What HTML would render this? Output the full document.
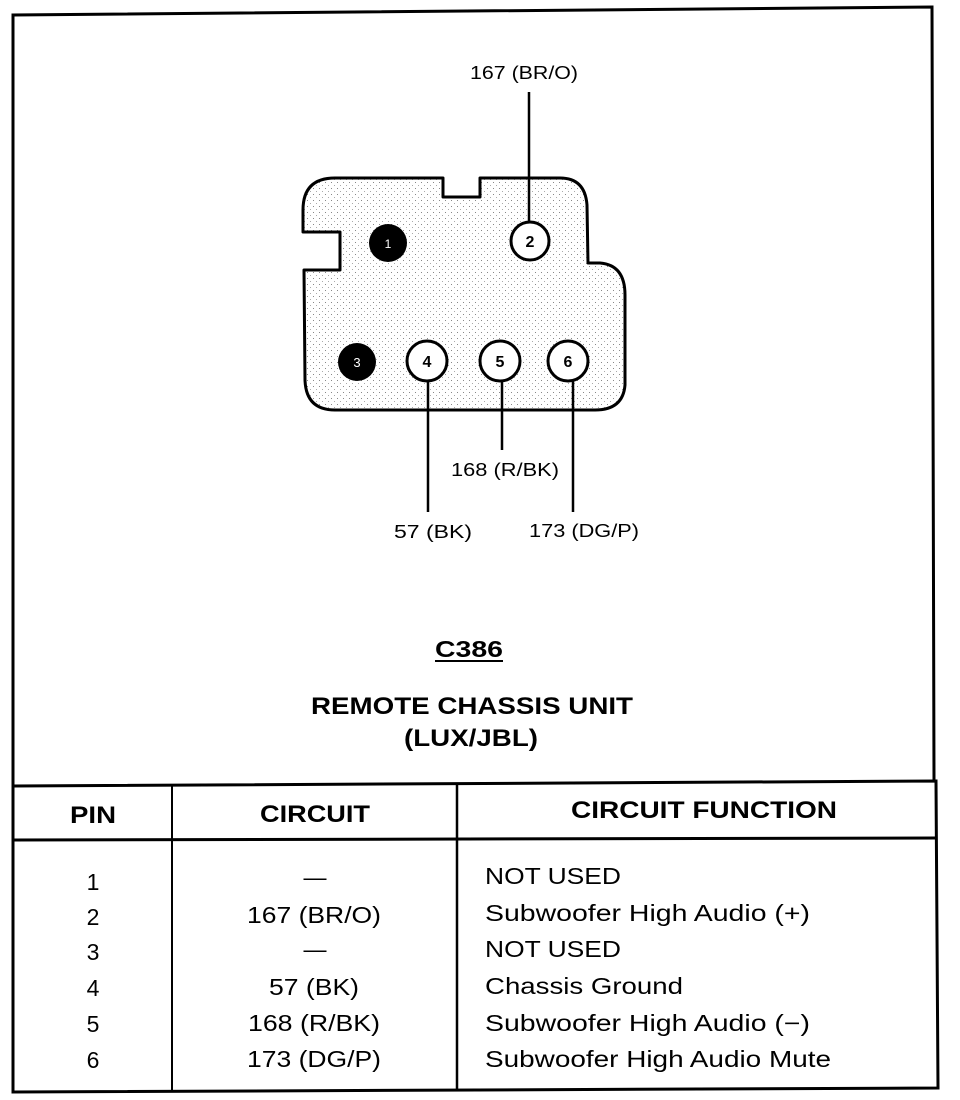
<!DOCTYPE html>
<html><head><meta charset="utf-8"><style>
html,body{margin:0;padding:0;background:#fff}
svg{display:block}
text{font-family:"Liberation Sans",Arial,sans-serif;fill:#000}
</style></head><body>
<svg width="960" height="1100" viewBox="0 0 960 1100" xmlns="http://www.w3.org/2000/svg">
<defs>
<pattern id="dots" width="6" height="6" patternUnits="userSpaceOnUse">
<rect width="6" height="6" fill="#fff"/>
<rect x="1" y="2" width="1" height="1" fill="#888"/>
<rect x="4" y="5" width="1" height="1" fill="#aaa"/>
</pattern>
</defs>
<path d="M13,1092 L13,15 L932,7 L934,780" fill="none" stroke="#000" stroke-width="3"/>
<path d="M13,786 L936,781 L938,1088 L13,1092 Z" fill="none" stroke="#000" stroke-width="3"/>
<line x1="13" y1="840" x2="937" y2="838" stroke="#000" stroke-width="3"/>
<line x1="172" y1="786" x2="172" y2="1091" stroke="#000" stroke-width="2"/>
<line x1="457" y1="784" x2="457" y2="1090" stroke="#000" stroke-width="2.5"/>

<path d="M303,210 Q303,178 335,178 L443,178 L443,197 L480,197 L480,178 L560,178 Q585,178 587,205 L588,263 L600,263 Q625,265 625,295 L625,385 Q623,410 595,410 L335,410 Q306,410 305,380 L304,270 L340,270 L340,232 L303,232 Z" fill="url(#dots)" stroke="#000" stroke-width="3" stroke-linejoin="round"/>

<line x1="529" y1="92" x2="529" y2="223" stroke="#000" stroke-width="2.5"/>
<line x1="428" y1="380" x2="428" y2="512" stroke="#000" stroke-width="2.5"/>
<line x1="502" y1="380" x2="502" y2="450" stroke="#000" stroke-width="2.5"/>
<line x1="573" y1="380" x2="573" y2="512" stroke="#000" stroke-width="2.5"/>

<circle cx="388" cy="243" r="19" fill="#000"/>
<text x="388" y="248" font-size="12" text-anchor="middle" style="fill:#fff">1</text>
<circle cx="530" cy="241" r="19" fill="#fff" stroke="#000" stroke-width="3"/>
<text x="530" y="247" font-size="16" font-weight="bold" text-anchor="middle">2</text>
<circle cx="357" cy="362" r="19" fill="#000"/>
<text x="357" y="367" font-size="13" text-anchor="middle" style="fill:#fff">3</text>
<circle cx="427" cy="361" r="20" fill="#fff" stroke="#000" stroke-width="3"/>
<text x="427" y="367" font-size="16" font-weight="bold" text-anchor="middle">4</text>
<circle cx="500" cy="361" r="20" fill="#fff" stroke="#000" stroke-width="3"/>
<text x="500" y="367" font-size="16" font-weight="bold" text-anchor="middle">5</text>
<circle cx="568" cy="361" r="20" fill="#fff" stroke="#000" stroke-width="3"/>
<text x="568" y="367" font-size="16" font-weight="bold" text-anchor="middle">6</text>

<text x="524" y="79" font-size="18" text-anchor="middle" textLength="108" lengthAdjust="spacingAndGlyphs">167 (BR/O)</text>
<text x="505" y="476" font-size="18" text-anchor="middle" textLength="108" lengthAdjust="spacingAndGlyphs">168 (R/BK)</text>
<text x="433" y="538" font-size="18" text-anchor="middle" textLength="78" lengthAdjust="spacingAndGlyphs">57 (BK)</text>
<text x="584" y="537" font-size="18" text-anchor="middle" textLength="110" lengthAdjust="spacingAndGlyphs">173 (DG/P)</text>

<text x="469" y="657" font-size="23" font-weight="bold" text-anchor="middle" textLength="68" lengthAdjust="spacingAndGlyphs">C386</text>
<line x1="435" y1="661" x2="503" y2="661" stroke="#000" stroke-width="2"/>
<text x="472" y="714" font-size="24" font-weight="bold" text-anchor="middle" textLength="322" lengthAdjust="spacingAndGlyphs">REMOTE CHASSIS UNIT</text>
<text x="471" y="746" font-size="24" font-weight="bold" text-anchor="middle" textLength="134" lengthAdjust="spacingAndGlyphs">(LUX/JBL)</text>

<text x="93" y="823" font-size="24" font-weight="bold" text-anchor="middle" textLength="46" lengthAdjust="spacingAndGlyphs">PIN</text>
<text x="315" y="822" font-size="24" font-weight="bold" text-anchor="middle" textLength="110" lengthAdjust="spacingAndGlyphs">CIRCUIT</text>
<text x="704" y="818" font-size="24" font-weight="bold" text-anchor="middle" textLength="266" lengthAdjust="spacingAndGlyphs">CIRCUIT FUNCTION</text>

<g font-size="23">
<text x="93" y="890" text-anchor="middle">1</text>
<text x="93" y="925" text-anchor="middle">2</text>
<text x="93" y="960" text-anchor="middle">3</text>
<text x="93" y="996" text-anchor="middle">4</text>
<text x="93" y="1032" text-anchor="middle">5</text>
<text x="93" y="1068" text-anchor="middle">6</text>
<text x="315" y="885" text-anchor="middle">—</text>
<text x="314" y="923" text-anchor="middle" textLength="134" lengthAdjust="spacingAndGlyphs">167 (BR/O)</text>
<text x="315" y="957" text-anchor="middle">—</text>
<text x="314" y="995" text-anchor="middle" textLength="90" lengthAdjust="spacingAndGlyphs">57 (BK)</text>
<text x="314" y="1031" text-anchor="middle" textLength="132" lengthAdjust="spacingAndGlyphs">168 (R/BK)</text>
<text x="314" y="1067" text-anchor="middle" textLength="134" lengthAdjust="spacingAndGlyphs">173 (DG/P)</text>
<text x="485" y="884" textLength="136" lengthAdjust="spacingAndGlyphs">NOT USED</text>
<text x="485" y="921" textLength="325" lengthAdjust="spacingAndGlyphs">Subwoofer High Audio (+)</text>
<text x="485" y="957" textLength="136" lengthAdjust="spacingAndGlyphs">NOT USED</text>
<text x="485" y="994" textLength="198" lengthAdjust="spacingAndGlyphs">Chassis Ground</text>
<text x="485" y="1031" textLength="325" lengthAdjust="spacingAndGlyphs">Subwoofer High Audio (−)</text>
<text x="485" y="1067" textLength="346" lengthAdjust="spacingAndGlyphs">Subwoofer High Audio Mute</text>
</g>
</svg>
</body></html>
